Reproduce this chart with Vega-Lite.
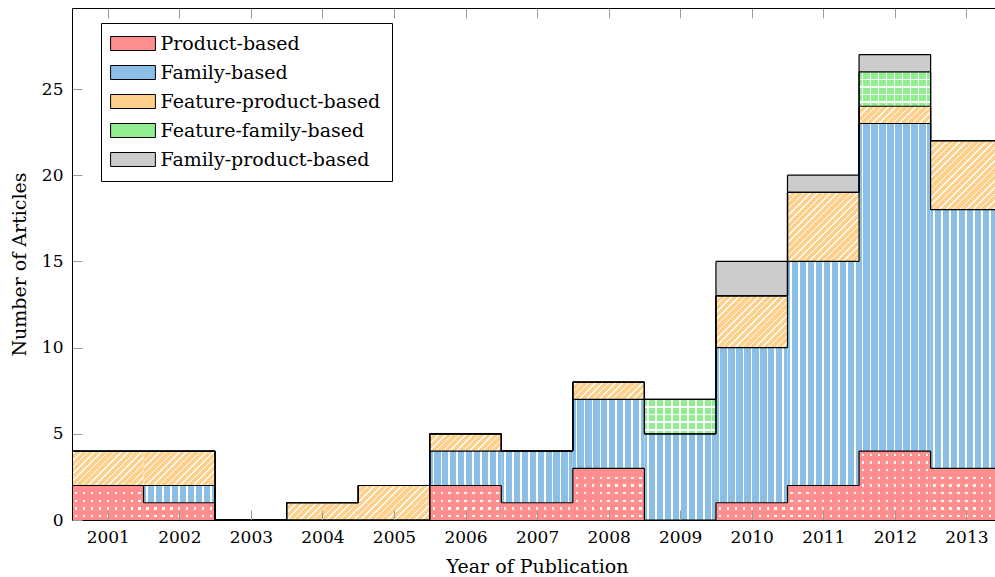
{
  "$schema": "https://vega.github.io/schema/vega-lite/v6.json",
  "width": 923,
  "height": 512,
  "autosize": {"type": "none"},
  "padding": {"left": 72, "top": 8, "right": 0, "bottom": 57},
  "config": {
    "view": {"stroke": null},
    "font": "DejaVu Serif"
  },
  "data": {
    "values": [
      {"year": 2001, "series": "Product-based", "n": 2},
      {"year": 2002, "series": "Product-based", "n": 1},
      {"year": 2003, "series": "Product-based", "n": 0},
      {"year": 2004, "series": "Product-based", "n": 0},
      {"year": 2005, "series": "Product-based", "n": 0},
      {"year": 2006, "series": "Product-based", "n": 2},
      {"year": 2007, "series": "Product-based", "n": 1},
      {"year": 2008, "series": "Product-based", "n": 3},
      {"year": 2009, "series": "Product-based", "n": 0},
      {"year": 2010, "series": "Product-based", "n": 1},
      {"year": 2011, "series": "Product-based", "n": 2},
      {"year": 2012, "series": "Product-based", "n": 4},
      {"year": 2013, "series": "Product-based", "n": 3},
      {"year": 2001, "series": "Family-based", "n": 0},
      {"year": 2002, "series": "Family-based", "n": 1},
      {"year": 2003, "series": "Family-based", "n": 0},
      {"year": 2004, "series": "Family-based", "n": 0},
      {"year": 2005, "series": "Family-based", "n": 0},
      {"year": 2006, "series": "Family-based", "n": 2},
      {"year": 2007, "series": "Family-based", "n": 3},
      {"year": 2008, "series": "Family-based", "n": 4},
      {"year": 2009, "series": "Family-based", "n": 5},
      {"year": 2010, "series": "Family-based", "n": 9},
      {"year": 2011, "series": "Family-based", "n": 13},
      {"year": 2012, "series": "Family-based", "n": 19},
      {"year": 2013, "series": "Family-based", "n": 15},
      {"year": 2001, "series": "Feature-product-based", "n": 2},
      {"year": 2002, "series": "Feature-product-based", "n": 2},
      {"year": 2003, "series": "Feature-product-based", "n": 0},
      {"year": 2004, "series": "Feature-product-based", "n": 1},
      {"year": 2005, "series": "Feature-product-based", "n": 2},
      {"year": 2006, "series": "Feature-product-based", "n": 1},
      {"year": 2007, "series": "Feature-product-based", "n": 0},
      {"year": 2008, "series": "Feature-product-based", "n": 1},
      {"year": 2009, "series": "Feature-product-based", "n": 0},
      {"year": 2010, "series": "Feature-product-based", "n": 3},
      {"year": 2011, "series": "Feature-product-based", "n": 4},
      {"year": 2012, "series": "Feature-product-based", "n": 1},
      {"year": 2013, "series": "Feature-product-based", "n": 4},
      {"year": 2001, "series": "Feature-family-based", "n": 0},
      {"year": 2002, "series": "Feature-family-based", "n": 0},
      {"year": 2003, "series": "Feature-family-based", "n": 0},
      {"year": 2004, "series": "Feature-family-based", "n": 0},
      {"year": 2005, "series": "Feature-family-based", "n": 0},
      {"year": 2006, "series": "Feature-family-based", "n": 0},
      {"year": 2007, "series": "Feature-family-based", "n": 0},
      {"year": 2008, "series": "Feature-family-based", "n": 0},
      {"year": 2009, "series": "Feature-family-based", "n": 2},
      {"year": 2010, "series": "Feature-family-based", "n": 0},
      {"year": 2011, "series": "Feature-family-based", "n": 0},
      {"year": 2012, "series": "Feature-family-based", "n": 2},
      {"year": 2013, "series": "Feature-family-based", "n": 0},
      {"year": 2001, "series": "Family-product-based", "n": 0},
      {"year": 2002, "series": "Family-product-based", "n": 0},
      {"year": 2003, "series": "Family-product-based", "n": 0},
      {"year": 2004, "series": "Family-product-based", "n": 0},
      {"year": 2005, "series": "Family-product-based", "n": 0},
      {"year": 2006, "series": "Family-product-based", "n": 0},
      {"year": 2007, "series": "Family-product-based", "n": 0},
      {"year": 2008, "series": "Family-product-based", "n": 0},
      {"year": 2009, "series": "Family-product-based", "n": 0},
      {"year": 2010, "series": "Family-product-based", "n": 2},
      {"year": 2011, "series": "Family-product-based", "n": 1},
      {"year": 2012, "series": "Family-product-based", "n": 1},
      {"year": 2013, "series": "Family-product-based", "n": 0}
    ]
  },
  "transform": [
    {"calculate": "indexof(['Product-based','Family-based','Feature-product-based','Feature-family-based','Family-product-based'], datum.series)", "as": "order"},
    {"stack": "n", "groupby": ["year"], "sort": [{"field": "order", "order": "ascending"}], "as": ["y0", "y1"]},
    {"bin": {"extent": [2000.5, 2013.5], "step": 1, "nice": false}, "field": "year", "as": ["x0", "x1"]},
    {"window": [{"op": "lag", "field": "y1", "as": "prev"}], "groupby": ["series"], "sort": [{"field": "year", "order": "ascending"}]}
  ],
  "resolve": {"axis": {"x": "independent"}},
  "layer": [
    {
      "mark": {"type": "bar", "clip": true},
      "encoding": {
        "x": {
          "field": "x0", "type": "quantitative",
          "scale": {"domain": [2000.5, 2013.4], "nice": false, "zero": false},
          "axis": {
            "values": [2001, 2002, 2003, 2004, 2005, 2006, 2007, 2008, 2009, 2010, 2011, 2012, 2013],
            "format": "d", "title": "Year of Publication", "zindex": 1,
            "grid": false, "domainColor": "black", "domainWidth": 1,
            "tickColor": "#9a9a9a", "tickSize": -10, "tickWidth": 1,
            "labelFont": "DejaVu Serif", "labelFontSize": 17, "labelColor": "black", "labelPadding": 19,
            "titleFont": "DejaVu Serif", "titleFontSize": 19, "titleFontWeight": "normal", "titleColor": "black",
            "titleX": 465, "titleY": 52, "titleBaseline": "alphabetic"
          }
        },
        "x2": {"field": "x1"},
        "y": {
          "field": "y0", "type": "quantitative",
          "scale": {"domain": [0, 29.7], "nice": false},
          "axis": {
            "values": [0, 5, 10, 15, 20, 25], "title": "Number of Articles", "zindex": 1,
            "grid": false, "domainColor": "black", "domainWidth": 1,
            "tickColor": "#9a9a9a", "tickSize": -10, "tickWidth": 1,
            "labelFont": "DejaVu Serif", "labelFontSize": 17, "labelColor": "black", "labelPadding": 19,
            "titleFont": "DejaVu Serif", "titleFontSize": 19, "titleFontWeight": "normal", "titleColor": "black",
            "titleX": -47, "titleY": 256, "titleBaseline": "alphabetic"
          }
        },
        "y2": {"field": "y1"},
        "color": {
          "field": "series", "type": "nominal",
          "scale": {
            "domain": ["Product-based", "Family-based", "Feature-product-based", "Feature-family-based", "Family-product-based"],
            "range": ["#ff8e8e", "#8cbfe6", "#ffd08c", "#90ee90", "#cccccc"]
          },
          "legend": {
            "orient": "none", "legendX": 29, "legendY": 15, "title": null,
            "strokeColor": "black", "fillColor": "white", "padding": 11, "cornerRadius": 0,
            "symbolType": "M-3.2,-1H3.2V1H-3.2Z", "symbolSize": 196, "symbolOpacity": 1, "symbolOffset": 11.5,
            "labelFont": "DejaVu Serif", "labelFontSize": 19, "labelColor": "black", "labelOffset": 18,
            "labelLimit": 400, "rowPadding": 9,
            "encode": {"symbols": {"update": {"stroke": {"value": "black"}, "strokeWidth": {"value": 1}}}}
          }
        }
      }
    },
    {
      "transform": [{"filter": "(datum.series == 'Family-based' || datum.series == 'Feature-family-based') && datum.n > 0"}],
      "mark": {"type": "bar", "clip": true, "fill": {"gradient": "linear", "x1": 0, "y1": 0, "x2": 1, "y2": 0, "stops": [
        {"offset": 0, "color": "rgba(255,255,255,0)"}, {"offset": 0.04, "color": "rgba(255,255,255,0)"}, {"offset": 0.04, "color": "#ffffff"}, {"offset": 0.062, "color": "#ffffff"}, {"offset": 0.062, "color": "rgba(255,255,255,0)"},
        {"offset": 0.151, "color": "rgba(255,255,255,0)"}, {"offset": 0.151, "color": "#ffffff"}, {"offset": 0.173, "color": "#ffffff"}, {"offset": 0.173, "color": "rgba(255,255,255,0)"},
        {"offset": 0.262, "color": "rgba(255,255,255,0)"}, {"offset": 0.262, "color": "#ffffff"}, {"offset": 0.284, "color": "#ffffff"}, {"offset": 0.284, "color": "rgba(255,255,255,0)"},
        {"offset": 0.373, "color": "rgba(255,255,255,0)"}, {"offset": 0.373, "color": "#ffffff"}, {"offset": 0.395, "color": "#ffffff"}, {"offset": 0.395, "color": "rgba(255,255,255,0)"},
        {"offset": 0.484, "color": "rgba(255,255,255,0)"}, {"offset": 0.484, "color": "#ffffff"}, {"offset": 0.506, "color": "#ffffff"}, {"offset": 0.506, "color": "rgba(255,255,255,0)"},
        {"offset": 0.596, "color": "rgba(255,255,255,0)"}, {"offset": 0.596, "color": "#ffffff"}, {"offset": 0.618, "color": "#ffffff"}, {"offset": 0.618, "color": "rgba(255,255,255,0)"},
        {"offset": 0.707, "color": "rgba(255,255,255,0)"}, {"offset": 0.707, "color": "#ffffff"}, {"offset": 0.729, "color": "#ffffff"}, {"offset": 0.729, "color": "rgba(255,255,255,0)"},
        {"offset": 0.818, "color": "rgba(255,255,255,0)"}, {"offset": 0.818, "color": "#ffffff"}, {"offset": 0.840, "color": "#ffffff"}, {"offset": 0.840, "color": "rgba(255,255,255,0)"},
        {"offset": 0.929, "color": "rgba(255,255,255,0)"}, {"offset": 0.929, "color": "#ffffff"}, {"offset": 0.951, "color": "#ffffff"}, {"offset": 0.951, "color": "rgba(255,255,255,0)"},
        {"offset": 1, "color": "rgba(255,255,255,0)"}
      ]}},
      "encoding": {
        "x": {"field": "x0", "type": "quantitative", "axis": null},
        "x2": {"field": "x1"},
        "y": {"field": "y0", "type": "quantitative"},
        "y2": {"field": "y1"}
      }
    },
    {
      "transform": [{"filter": "datum.series == 'Feature-family-based' && datum.n > 0"}],
      "mark": {"type": "bar", "clip": true, "fill": {"gradient": "linear", "x1": 0, "y1": 0, "x2": 0, "y2": 1, "stops": [
        {"offset": 0, "color": "rgba(255,255,255,0)"}, {"offset": 0.2, "color": "rgba(255,255,255,0)"}, {"offset": 0.2, "color": "#ffffff"}, {"offset": 0.245, "color": "#ffffff"}, {"offset": 0.245, "color": "rgba(255,255,255,0)"},
        {"offset": 0.42, "color": "rgba(255,255,255,0)"}, {"offset": 0.42, "color": "#ffffff"}, {"offset": 0.465, "color": "#ffffff"}, {"offset": 0.465, "color": "rgba(255,255,255,0)"},
        {"offset": 0.64, "color": "rgba(255,255,255,0)"}, {"offset": 0.64, "color": "#ffffff"}, {"offset": 0.685, "color": "#ffffff"}, {"offset": 0.685, "color": "rgba(255,255,255,0)"},
        {"offset": 0.86, "color": "rgba(255,255,255,0)"}, {"offset": 0.86, "color": "#ffffff"}, {"offset": 0.905, "color": "#ffffff"}, {"offset": 0.905, "color": "rgba(255,255,255,0)"},
        {"offset": 1, "color": "rgba(255,255,255,0)"}
      ]}},
      "encoding": {
        "x": {"field": "x0", "type": "quantitative", "axis": null},
        "x2": {"field": "x1"},
        "y": {"field": "y0", "type": "quantitative"},
        "y2": {"field": "y1"}
      }
    },
    {
      "transform": [{"filter": "datum.series == 'Feature-product-based' && datum.n == 1"}],
      "mark": {"type": "bar", "clip": true, "fill": {"gradient": "linear", "x1": 0, "y1": 0, "x2": 1.863, "y2": 0.449, "stops": [
        {"offset": 0, "color": "rgba(255,255,255,0)"},
        {"offset": 0.019, "color": "rgba(255,255,255,0)"}, {"offset": 0.019, "color": "#ffffff"}, {"offset": 0.030, "color": "#ffffff"}, {"offset": 0.030, "color": "rgba(255,255,255,0)"},
        {"offset": 0.0667, "color": "rgba(255,255,255,0)"}, {"offset": 0.0667, "color": "#ffffff"}, {"offset": 0.0777, "color": "#ffffff"}, {"offset": 0.0777, "color": "rgba(255,255,255,0)"},
        {"offset": 0.1143, "color": "rgba(255,255,255,0)"}, {"offset": 0.1143, "color": "#ffffff"}, {"offset": 0.1253, "color": "#ffffff"}, {"offset": 0.1253, "color": "rgba(255,255,255,0)"},
        {"offset": 0.1619, "color": "rgba(255,255,255,0)"}, {"offset": 0.1619, "color": "#ffffff"}, {"offset": 0.1729, "color": "#ffffff"}, {"offset": 0.1729, "color": "rgba(255,255,255,0)"},
        {"offset": 0.2095, "color": "rgba(255,255,255,0)"}, {"offset": 0.2095, "color": "#ffffff"}, {"offset": 0.2205, "color": "#ffffff"}, {"offset": 0.2205, "color": "rgba(255,255,255,0)"},
        {"offset": 0.2571, "color": "rgba(255,255,255,0)"}, {"offset": 0.2571, "color": "#ffffff"}, {"offset": 0.2681, "color": "#ffffff"}, {"offset": 0.2681, "color": "rgba(255,255,255,0)"},
        {"offset": 0.3048, "color": "rgba(255,255,255,0)"}, {"offset": 0.3048, "color": "#ffffff"}, {"offset": 0.3158, "color": "#ffffff"}, {"offset": 0.3158, "color": "rgba(255,255,255,0)"},
        {"offset": 0.3524, "color": "rgba(255,255,255,0)"}, {"offset": 0.3524, "color": "#ffffff"}, {"offset": 0.3634, "color": "#ffffff"}, {"offset": 0.3634, "color": "rgba(255,255,255,0)"},
        {"offset": 0.4000, "color": "rgba(255,255,255,0)"}, {"offset": 0.4000, "color": "#ffffff"}, {"offset": 0.4110, "color": "#ffffff"}, {"offset": 0.4110, "color": "rgba(255,255,255,0)"},
        {"offset": 0.4476, "color": "rgba(255,255,255,0)"}, {"offset": 0.4476, "color": "#ffffff"}, {"offset": 0.4586, "color": "#ffffff"}, {"offset": 0.4586, "color": "rgba(255,255,255,0)"},
        {"offset": 0.4952, "color": "rgba(255,255,255,0)"}, {"offset": 0.4952, "color": "#ffffff"}, {"offset": 0.5062, "color": "#ffffff"}, {"offset": 0.5062, "color": "rgba(255,255,255,0)"},
        {"offset": 0.5429, "color": "rgba(255,255,255,0)"}, {"offset": 0.5429, "color": "#ffffff"}, {"offset": 0.5539, "color": "#ffffff"}, {"offset": 0.5539, "color": "rgba(255,255,255,0)"},
        {"offset": 0.5905, "color": "rgba(255,255,255,0)"}, {"offset": 0.5905, "color": "#ffffff"}, {"offset": 0.6015, "color": "#ffffff"}, {"offset": 0.6015, "color": "rgba(255,255,255,0)"},
        {"offset": 0.6381, "color": "rgba(255,255,255,0)"}, {"offset": 0.6381, "color": "#ffffff"}, {"offset": 0.6491, "color": "#ffffff"}, {"offset": 0.6491, "color": "rgba(255,255,255,0)"},
        {"offset": 0.6857, "color": "rgba(255,255,255,0)"}, {"offset": 0.6857, "color": "#ffffff"}, {"offset": 0.6967, "color": "#ffffff"}, {"offset": 0.6967, "color": "rgba(255,255,255,0)"},
        {"offset": 0.7333, "color": "rgba(255,255,255,0)"}, {"offset": 0.7333, "color": "#ffffff"}, {"offset": 0.7443, "color": "#ffffff"}, {"offset": 0.7443, "color": "rgba(255,255,255,0)"},
        {"offset": 0.7810, "color": "rgba(255,255,255,0)"}, {"offset": 0.7810, "color": "#ffffff"}, {"offset": 0.7920, "color": "#ffffff"}, {"offset": 0.7920, "color": "rgba(255,255,255,0)"},
        {"offset": 0.8286, "color": "rgba(255,255,255,0)"}, {"offset": 0.8286, "color": "#ffffff"}, {"offset": 0.8396, "color": "#ffffff"}, {"offset": 0.8396, "color": "rgba(255,255,255,0)"},
        {"offset": 0.8762, "color": "rgba(255,255,255,0)"}, {"offset": 0.8762, "color": "#ffffff"}, {"offset": 0.8872, "color": "#ffffff"}, {"offset": 0.8872, "color": "rgba(255,255,255,0)"},
        {"offset": 0.9238, "color": "rgba(255,255,255,0)"}, {"offset": 0.9238, "color": "#ffffff"}, {"offset": 0.9348, "color": "#ffffff"}, {"offset": 0.9348, "color": "rgba(255,255,255,0)"},
        {"offset": 0.9714, "color": "rgba(255,255,255,0)"}, {"offset": 0.9714, "color": "#ffffff"}, {"offset": 0.9824, "color": "#ffffff"}, {"offset": 0.9824, "color": "rgba(255,255,255,0)"},
        {"offset": 1, "color": "rgba(255,255,255,0)"}
      ]}},
      "encoding": {
        "x": {"field": "x0", "type": "quantitative", "axis": null},
        "x2": {"field": "x1"},
        "y": {"field": "y0", "type": "quantitative"},
        "y2": {"field": "y1"}
      }
    },
    {
      "transform": [{"filter": "datum.series == 'Feature-product-based' && datum.n == 2"}],
      "mark": {"type": "bar", "clip": true, "fill": {"gradient": "linear", "x1": 0, "y1": 0, "x2": 1.600, "y2": 0.771, "stops": [
        {"offset": 0, "color": "rgba(255,255,255,0)"},
        {"offset": 0.019, "color": "rgba(255,255,255,0)"}, {"offset": 0.019, "color": "#ffffff"}, {"offset": 0.030, "color": "#ffffff"}, {"offset": 0.030, "color": "rgba(255,255,255,0)"},
        {"offset": 0.0667, "color": "rgba(255,255,255,0)"}, {"offset": 0.0667, "color": "#ffffff"}, {"offset": 0.0777, "color": "#ffffff"}, {"offset": 0.0777, "color": "rgba(255,255,255,0)"},
        {"offset": 0.1143, "color": "rgba(255,255,255,0)"}, {"offset": 0.1143, "color": "#ffffff"}, {"offset": 0.1253, "color": "#ffffff"}, {"offset": 0.1253, "color": "rgba(255,255,255,0)"},
        {"offset": 0.1619, "color": "rgba(255,255,255,0)"}, {"offset": 0.1619, "color": "#ffffff"}, {"offset": 0.1729, "color": "#ffffff"}, {"offset": 0.1729, "color": "rgba(255,255,255,0)"},
        {"offset": 0.2095, "color": "rgba(255,255,255,0)"}, {"offset": 0.2095, "color": "#ffffff"}, {"offset": 0.2205, "color": "#ffffff"}, {"offset": 0.2205, "color": "rgba(255,255,255,0)"},
        {"offset": 0.2571, "color": "rgba(255,255,255,0)"}, {"offset": 0.2571, "color": "#ffffff"}, {"offset": 0.2681, "color": "#ffffff"}, {"offset": 0.2681, "color": "rgba(255,255,255,0)"},
        {"offset": 0.3048, "color": "rgba(255,255,255,0)"}, {"offset": 0.3048, "color": "#ffffff"}, {"offset": 0.3158, "color": "#ffffff"}, {"offset": 0.3158, "color": "rgba(255,255,255,0)"},
        {"offset": 0.3524, "color": "rgba(255,255,255,0)"}, {"offset": 0.3524, "color": "#ffffff"}, {"offset": 0.3634, "color": "#ffffff"}, {"offset": 0.3634, "color": "rgba(255,255,255,0)"},
        {"offset": 0.4000, "color": "rgba(255,255,255,0)"}, {"offset": 0.4000, "color": "#ffffff"}, {"offset": 0.4110, "color": "#ffffff"}, {"offset": 0.4110, "color": "rgba(255,255,255,0)"},
        {"offset": 0.4476, "color": "rgba(255,255,255,0)"}, {"offset": 0.4476, "color": "#ffffff"}, {"offset": 0.4586, "color": "#ffffff"}, {"offset": 0.4586, "color": "rgba(255,255,255,0)"},
        {"offset": 0.4952, "color": "rgba(255,255,255,0)"}, {"offset": 0.4952, "color": "#ffffff"}, {"offset": 0.5062, "color": "#ffffff"}, {"offset": 0.5062, "color": "rgba(255,255,255,0)"},
        {"offset": 0.5429, "color": "rgba(255,255,255,0)"}, {"offset": 0.5429, "color": "#ffffff"}, {"offset": 0.5539, "color": "#ffffff"}, {"offset": 0.5539, "color": "rgba(255,255,255,0)"},
        {"offset": 0.5905, "color": "rgba(255,255,255,0)"}, {"offset": 0.5905, "color": "#ffffff"}, {"offset": 0.6015, "color": "#ffffff"}, {"offset": 0.6015, "color": "rgba(255,255,255,0)"},
        {"offset": 0.6381, "color": "rgba(255,255,255,0)"}, {"offset": 0.6381, "color": "#ffffff"}, {"offset": 0.6491, "color": "#ffffff"}, {"offset": 0.6491, "color": "rgba(255,255,255,0)"},
        {"offset": 0.6857, "color": "rgba(255,255,255,0)"}, {"offset": 0.6857, "color": "#ffffff"}, {"offset": 0.6967, "color": "#ffffff"}, {"offset": 0.6967, "color": "rgba(255,255,255,0)"},
        {"offset": 0.7333, "color": "rgba(255,255,255,0)"}, {"offset": 0.7333, "color": "#ffffff"}, {"offset": 0.7443, "color": "#ffffff"}, {"offset": 0.7443, "color": "rgba(255,255,255,0)"},
        {"offset": 0.7810, "color": "rgba(255,255,255,0)"}, {"offset": 0.7810, "color": "#ffffff"}, {"offset": 0.7920, "color": "#ffffff"}, {"offset": 0.7920, "color": "rgba(255,255,255,0)"},
        {"offset": 0.8286, "color": "rgba(255,255,255,0)"}, {"offset": 0.8286, "color": "#ffffff"}, {"offset": 0.8396, "color": "#ffffff"}, {"offset": 0.8396, "color": "rgba(255,255,255,0)"},
        {"offset": 0.8762, "color": "rgba(255,255,255,0)"}, {"offset": 0.8762, "color": "#ffffff"}, {"offset": 0.8872, "color": "#ffffff"}, {"offset": 0.8872, "color": "rgba(255,255,255,0)"},
        {"offset": 0.9238, "color": "rgba(255,255,255,0)"}, {"offset": 0.9238, "color": "#ffffff"}, {"offset": 0.9348, "color": "#ffffff"}, {"offset": 0.9348, "color": "rgba(255,255,255,0)"},
        {"offset": 0.9714, "color": "rgba(255,255,255,0)"}, {"offset": 0.9714, "color": "#ffffff"}, {"offset": 0.9824, "color": "#ffffff"}, {"offset": 0.9824, "color": "rgba(255,255,255,0)"},
        {"offset": 1, "color": "rgba(255,255,255,0)"}
      ]}},
      "encoding": {
        "x": {"field": "x0", "type": "quantitative", "axis": null},
        "x2": {"field": "x1"},
        "y": {"field": "y0", "type": "quantitative"},
        "y2": {"field": "y1"}
      }
    },
    {
      "transform": [{"filter": "datum.series == 'Feature-product-based' && datum.n == 3"}],
      "mark": {"type": "bar", "clip": true, "fill": {"gradient": "linear", "x1": 0, "y1": 0, "x2": 1.295, "y2": 0.936, "stops": [
        {"offset": 0, "color": "rgba(255,255,255,0)"},
        {"offset": 0.019, "color": "rgba(255,255,255,0)"}, {"offset": 0.019, "color": "#ffffff"}, {"offset": 0.030, "color": "#ffffff"}, {"offset": 0.030, "color": "rgba(255,255,255,0)"},
        {"offset": 0.0667, "color": "rgba(255,255,255,0)"}, {"offset": 0.0667, "color": "#ffffff"}, {"offset": 0.0777, "color": "#ffffff"}, {"offset": 0.0777, "color": "rgba(255,255,255,0)"},
        {"offset": 0.1143, "color": "rgba(255,255,255,0)"}, {"offset": 0.1143, "color": "#ffffff"}, {"offset": 0.1253, "color": "#ffffff"}, {"offset": 0.1253, "color": "rgba(255,255,255,0)"},
        {"offset": 0.1619, "color": "rgba(255,255,255,0)"}, {"offset": 0.1619, "color": "#ffffff"}, {"offset": 0.1729, "color": "#ffffff"}, {"offset": 0.1729, "color": "rgba(255,255,255,0)"},
        {"offset": 0.2095, "color": "rgba(255,255,255,0)"}, {"offset": 0.2095, "color": "#ffffff"}, {"offset": 0.2205, "color": "#ffffff"}, {"offset": 0.2205, "color": "rgba(255,255,255,0)"},
        {"offset": 0.2571, "color": "rgba(255,255,255,0)"}, {"offset": 0.2571, "color": "#ffffff"}, {"offset": 0.2681, "color": "#ffffff"}, {"offset": 0.2681, "color": "rgba(255,255,255,0)"},
        {"offset": 0.3048, "color": "rgba(255,255,255,0)"}, {"offset": 0.3048, "color": "#ffffff"}, {"offset": 0.3158, "color": "#ffffff"}, {"offset": 0.3158, "color": "rgba(255,255,255,0)"},
        {"offset": 0.3524, "color": "rgba(255,255,255,0)"}, {"offset": 0.3524, "color": "#ffffff"}, {"offset": 0.3634, "color": "#ffffff"}, {"offset": 0.3634, "color": "rgba(255,255,255,0)"},
        {"offset": 0.4000, "color": "rgba(255,255,255,0)"}, {"offset": 0.4000, "color": "#ffffff"}, {"offset": 0.4110, "color": "#ffffff"}, {"offset": 0.4110, "color": "rgba(255,255,255,0)"},
        {"offset": 0.4476, "color": "rgba(255,255,255,0)"}, {"offset": 0.4476, "color": "#ffffff"}, {"offset": 0.4586, "color": "#ffffff"}, {"offset": 0.4586, "color": "rgba(255,255,255,0)"},
        {"offset": 0.4952, "color": "rgba(255,255,255,0)"}, {"offset": 0.4952, "color": "#ffffff"}, {"offset": 0.5062, "color": "#ffffff"}, {"offset": 0.5062, "color": "rgba(255,255,255,0)"},
        {"offset": 0.5429, "color": "rgba(255,255,255,0)"}, {"offset": 0.5429, "color": "#ffffff"}, {"offset": 0.5539, "color": "#ffffff"}, {"offset": 0.5539, "color": "rgba(255,255,255,0)"},
        {"offset": 0.5905, "color": "rgba(255,255,255,0)"}, {"offset": 0.5905, "color": "#ffffff"}, {"offset": 0.6015, "color": "#ffffff"}, {"offset": 0.6015, "color": "rgba(255,255,255,0)"},
        {"offset": 0.6381, "color": "rgba(255,255,255,0)"}, {"offset": 0.6381, "color": "#ffffff"}, {"offset": 0.6491, "color": "#ffffff"}, {"offset": 0.6491, "color": "rgba(255,255,255,0)"},
        {"offset": 0.6857, "color": "rgba(255,255,255,0)"}, {"offset": 0.6857, "color": "#ffffff"}, {"offset": 0.6967, "color": "#ffffff"}, {"offset": 0.6967, "color": "rgba(255,255,255,0)"},
        {"offset": 0.7333, "color": "rgba(255,255,255,0)"}, {"offset": 0.7333, "color": "#ffffff"}, {"offset": 0.7443, "color": "#ffffff"}, {"offset": 0.7443, "color": "rgba(255,255,255,0)"},
        {"offset": 0.7810, "color": "rgba(255,255,255,0)"}, {"offset": 0.7810, "color": "#ffffff"}, {"offset": 0.7920, "color": "#ffffff"}, {"offset": 0.7920, "color": "rgba(255,255,255,0)"},
        {"offset": 0.8286, "color": "rgba(255,255,255,0)"}, {"offset": 0.8286, "color": "#ffffff"}, {"offset": 0.8396, "color": "#ffffff"}, {"offset": 0.8396, "color": "rgba(255,255,255,0)"},
        {"offset": 0.8762, "color": "rgba(255,255,255,0)"}, {"offset": 0.8762, "color": "#ffffff"}, {"offset": 0.8872, "color": "#ffffff"}, {"offset": 0.8872, "color": "rgba(255,255,255,0)"},
        {"offset": 0.9238, "color": "rgba(255,255,255,0)"}, {"offset": 0.9238, "color": "#ffffff"}, {"offset": 0.9348, "color": "#ffffff"}, {"offset": 0.9348, "color": "rgba(255,255,255,0)"},
        {"offset": 0.9714, "color": "rgba(255,255,255,0)"}, {"offset": 0.9714, "color": "#ffffff"}, {"offset": 0.9824, "color": "#ffffff"}, {"offset": 0.9824, "color": "rgba(255,255,255,0)"},
        {"offset": 1, "color": "rgba(255,255,255,0)"}
      ]}},
      "encoding": {
        "x": {"field": "x0", "type": "quantitative", "axis": null},
        "x2": {"field": "x1"},
        "y": {"field": "y0", "type": "quantitative"},
        "y2": {"field": "y1"}
      }
    },
    {
      "transform": [{"filter": "datum.series == 'Feature-product-based' && datum.n == 4"}],
      "mark": {"type": "bar", "clip": true, "fill": {"gradient": "linear", "x1": 0, "y1": 0, "x2": 1.0216, "y2": 0.985, "stops": [
        {"offset": 0, "color": "rgba(255,255,255,0)"},
        {"offset": 0.019, "color": "rgba(255,255,255,0)"}, {"offset": 0.019, "color": "#ffffff"}, {"offset": 0.030, "color": "#ffffff"}, {"offset": 0.030, "color": "rgba(255,255,255,0)"},
        {"offset": 0.0667, "color": "rgba(255,255,255,0)"}, {"offset": 0.0667, "color": "#ffffff"}, {"offset": 0.0777, "color": "#ffffff"}, {"offset": 0.0777, "color": "rgba(255,255,255,0)"},
        {"offset": 0.1143, "color": "rgba(255,255,255,0)"}, {"offset": 0.1143, "color": "#ffffff"}, {"offset": 0.1253, "color": "#ffffff"}, {"offset": 0.1253, "color": "rgba(255,255,255,0)"},
        {"offset": 0.1619, "color": "rgba(255,255,255,0)"}, {"offset": 0.1619, "color": "#ffffff"}, {"offset": 0.1729, "color": "#ffffff"}, {"offset": 0.1729, "color": "rgba(255,255,255,0)"},
        {"offset": 0.2095, "color": "rgba(255,255,255,0)"}, {"offset": 0.2095, "color": "#ffffff"}, {"offset": 0.2205, "color": "#ffffff"}, {"offset": 0.2205, "color": "rgba(255,255,255,0)"},
        {"offset": 0.2571, "color": "rgba(255,255,255,0)"}, {"offset": 0.2571, "color": "#ffffff"}, {"offset": 0.2681, "color": "#ffffff"}, {"offset": 0.2681, "color": "rgba(255,255,255,0)"},
        {"offset": 0.3048, "color": "rgba(255,255,255,0)"}, {"offset": 0.3048, "color": "#ffffff"}, {"offset": 0.3158, "color": "#ffffff"}, {"offset": 0.3158, "color": "rgba(255,255,255,0)"},
        {"offset": 0.3524, "color": "rgba(255,255,255,0)"}, {"offset": 0.3524, "color": "#ffffff"}, {"offset": 0.3634, "color": "#ffffff"}, {"offset": 0.3634, "color": "rgba(255,255,255,0)"},
        {"offset": 0.4000, "color": "rgba(255,255,255,0)"}, {"offset": 0.4000, "color": "#ffffff"}, {"offset": 0.4110, "color": "#ffffff"}, {"offset": 0.4110, "color": "rgba(255,255,255,0)"},
        {"offset": 0.4476, "color": "rgba(255,255,255,0)"}, {"offset": 0.4476, "color": "#ffffff"}, {"offset": 0.4586, "color": "#ffffff"}, {"offset": 0.4586, "color": "rgba(255,255,255,0)"},
        {"offset": 0.4952, "color": "rgba(255,255,255,0)"}, {"offset": 0.4952, "color": "#ffffff"}, {"offset": 0.5062, "color": "#ffffff"}, {"offset": 0.5062, "color": "rgba(255,255,255,0)"},
        {"offset": 0.5429, "color": "rgba(255,255,255,0)"}, {"offset": 0.5429, "color": "#ffffff"}, {"offset": 0.5539, "color": "#ffffff"}, {"offset": 0.5539, "color": "rgba(255,255,255,0)"},
        {"offset": 0.5905, "color": "rgba(255,255,255,0)"}, {"offset": 0.5905, "color": "#ffffff"}, {"offset": 0.6015, "color": "#ffffff"}, {"offset": 0.6015, "color": "rgba(255,255,255,0)"},
        {"offset": 0.6381, "color": "rgba(255,255,255,0)"}, {"offset": 0.6381, "color": "#ffffff"}, {"offset": 0.6491, "color": "#ffffff"}, {"offset": 0.6491, "color": "rgba(255,255,255,0)"},
        {"offset": 0.6857, "color": "rgba(255,255,255,0)"}, {"offset": 0.6857, "color": "#ffffff"}, {"offset": 0.6967, "color": "#ffffff"}, {"offset": 0.6967, "color": "rgba(255,255,255,0)"},
        {"offset": 0.7333, "color": "rgba(255,255,255,0)"}, {"offset": 0.7333, "color": "#ffffff"}, {"offset": 0.7443, "color": "#ffffff"}, {"offset": 0.7443, "color": "rgba(255,255,255,0)"},
        {"offset": 0.7810, "color": "rgba(255,255,255,0)"}, {"offset": 0.7810, "color": "#ffffff"}, {"offset": 0.7920, "color": "#ffffff"}, {"offset": 0.7920, "color": "rgba(255,255,255,0)"},
        {"offset": 0.8286, "color": "rgba(255,255,255,0)"}, {"offset": 0.8286, "color": "#ffffff"}, {"offset": 0.8396, "color": "#ffffff"}, {"offset": 0.8396, "color": "rgba(255,255,255,0)"},
        {"offset": 0.8762, "color": "rgba(255,255,255,0)"}, {"offset": 0.8762, "color": "#ffffff"}, {"offset": 0.8872, "color": "#ffffff"}, {"offset": 0.8872, "color": "rgba(255,255,255,0)"},
        {"offset": 0.9238, "color": "rgba(255,255,255,0)"}, {"offset": 0.9238, "color": "#ffffff"}, {"offset": 0.9348, "color": "#ffffff"}, {"offset": 0.9348, "color": "rgba(255,255,255,0)"},
        {"offset": 0.9714, "color": "rgba(255,255,255,0)"}, {"offset": 0.9714, "color": "#ffffff"}, {"offset": 0.9824, "color": "#ffffff"}, {"offset": 0.9824, "color": "rgba(255,255,255,0)"},
        {"offset": 1, "color": "rgba(255,255,255,0)"}
      ]}},
      "encoding": {
        "x": {"field": "x0", "type": "quantitative", "axis": null},
        "x2": {"field": "x1"},
        "y": {"field": "y0", "type": "quantitative"},
        "y2": {"field": "y1"}
      }
    },
    {
      "transform": [{"filter": "datum.series == 'Product-based' && datum.n == 1"}],
      "mark": {"type": "bar", "clip": true, "fill": {"gradient": "linear", "x1": 0, "y1": 1, "x2": 0, "y2": -3.0026, "stops": [
        {"offset": 0, "color": "rgba(255,255,255,0)"},
        {"offset": 0.040, "color": "rgba(255,255,255,0)"}, {"offset": 0.040, "color": "#ffffff"}, {"offset": 0.073, "color": "#ffffff"}, {"offset": 0.073, "color": "rgba(255,255,255,0)"},
        {"offset": 0.151, "color": "rgba(255,255,255,0)"}, {"offset": 0.151, "color": "#ffffff"}, {"offset": 0.184, "color": "#ffffff"}, {"offset": 0.184, "color": "rgba(255,255,255,0)"},
        {"offset": 0.262, "color": "rgba(255,255,255,0)"}, {"offset": 0.262, "color": "#ffffff"}, {"offset": 0.295, "color": "#ffffff"}, {"offset": 0.295, "color": "rgba(255,255,255,0)"},
        {"offset": 1, "color": "rgba(255,255,255,0)"}
      ]}},
      "encoding": {
        "x": {"field": "x0", "type": "quantitative", "axis": null},
        "x2": {"field": "x1"},
        "y": {"field": "y0", "type": "quantitative"},
        "y2": {"field": "y1"}
      }
    },
    {
      "transform": [{"filter": "datum.series == 'Product-based' && datum.n == 2"}],
      "mark": {"type": "bar", "clip": true, "fill": {"gradient": "linear", "x1": 0, "y1": 1, "x2": 0, "y2": -1.0013, "stops": [
        {"offset": 0, "color": "rgba(255,255,255,0)"},
        {"offset": 0.040, "color": "rgba(255,255,255,0)"}, {"offset": 0.040, "color": "#ffffff"}, {"offset": 0.073, "color": "#ffffff"}, {"offset": 0.073, "color": "rgba(255,255,255,0)"},
        {"offset": 0.151, "color": "rgba(255,255,255,0)"}, {"offset": 0.151, "color": "#ffffff"}, {"offset": 0.184, "color": "#ffffff"}, {"offset": 0.184, "color": "rgba(255,255,255,0)"},
        {"offset": 0.262, "color": "rgba(255,255,255,0)"}, {"offset": 0.262, "color": "#ffffff"}, {"offset": 0.295, "color": "#ffffff"}, {"offset": 0.295, "color": "rgba(255,255,255,0)"},
        {"offset": 0.373, "color": "rgba(255,255,255,0)"}, {"offset": 0.373, "color": "#ffffff"}, {"offset": 0.406, "color": "#ffffff"}, {"offset": 0.406, "color": "rgba(255,255,255,0)"},
        {"offset": 1, "color": "rgba(255,255,255,0)"}
      ]}},
      "encoding": {
        "x": {"field": "x0", "type": "quantitative", "axis": null},
        "x2": {"field": "x1"},
        "y": {"field": "y0", "type": "quantitative"},
        "y2": {"field": "y1"}
      }
    },
    {
      "transform": [{"filter": "datum.series == 'Product-based' && datum.n == 3"}],
      "mark": {"type": "bar", "clip": true, "fill": {"gradient": "linear", "x1": 0, "y1": 1, "x2": 0, "y2": -0.3342, "stops": [
        {"offset": 0, "color": "rgba(255,255,255,0)"},
        {"offset": 0.040, "color": "rgba(255,255,255,0)"}, {"offset": 0.040, "color": "#ffffff"}, {"offset": 0.073, "color": "#ffffff"}, {"offset": 0.073, "color": "rgba(255,255,255,0)"},
        {"offset": 0.151, "color": "rgba(255,255,255,0)"}, {"offset": 0.151, "color": "#ffffff"}, {"offset": 0.184, "color": "#ffffff"}, {"offset": 0.184, "color": "rgba(255,255,255,0)"},
        {"offset": 0.262, "color": "rgba(255,255,255,0)"}, {"offset": 0.262, "color": "#ffffff"}, {"offset": 0.295, "color": "#ffffff"}, {"offset": 0.295, "color": "rgba(255,255,255,0)"},
        {"offset": 0.373, "color": "rgba(255,255,255,0)"}, {"offset": 0.373, "color": "#ffffff"}, {"offset": 0.406, "color": "#ffffff"}, {"offset": 0.406, "color": "rgba(255,255,255,0)"},
        {"offset": 0.484, "color": "rgba(255,255,255,0)"}, {"offset": 0.484, "color": "#ffffff"}, {"offset": 0.517, "color": "#ffffff"}, {"offset": 0.517, "color": "rgba(255,255,255,0)"},
        {"offset": 0.596, "color": "rgba(255,255,255,0)"}, {"offset": 0.596, "color": "#ffffff"}, {"offset": 0.629, "color": "#ffffff"}, {"offset": 0.629, "color": "rgba(255,255,255,0)"},
        {"offset": 1, "color": "rgba(255,255,255,0)"}
      ]}},
      "encoding": {
        "x": {"field": "x0", "type": "quantitative", "axis": null},
        "x2": {"field": "x1"},
        "y": {"field": "y0", "type": "quantitative"},
        "y2": {"field": "y1"}
      }
    },
    {
      "transform": [{"filter": "datum.series == 'Product-based' && datum.n == 4"}],
      "mark": {"type": "bar", "clip": true, "fill": {"gradient": "linear", "x1": 0, "y1": 1, "x2": 0, "y2": -0.0007, "stops": [
        {"offset": 0, "color": "rgba(255,255,255,0)"},
        {"offset": 0.040, "color": "rgba(255,255,255,0)"}, {"offset": 0.040, "color": "#ffffff"}, {"offset": 0.073, "color": "#ffffff"}, {"offset": 0.073, "color": "rgba(255,255,255,0)"},
        {"offset": 0.151, "color": "rgba(255,255,255,0)"}, {"offset": 0.151, "color": "#ffffff"}, {"offset": 0.184, "color": "#ffffff"}, {"offset": 0.184, "color": "rgba(255,255,255,0)"},
        {"offset": 0.262, "color": "rgba(255,255,255,0)"}, {"offset": 0.262, "color": "#ffffff"}, {"offset": 0.295, "color": "#ffffff"}, {"offset": 0.295, "color": "rgba(255,255,255,0)"},
        {"offset": 0.373, "color": "rgba(255,255,255,0)"}, {"offset": 0.373, "color": "#ffffff"}, {"offset": 0.406, "color": "#ffffff"}, {"offset": 0.406, "color": "rgba(255,255,255,0)"},
        {"offset": 0.484, "color": "rgba(255,255,255,0)"}, {"offset": 0.484, "color": "#ffffff"}, {"offset": 0.517, "color": "#ffffff"}, {"offset": 0.517, "color": "rgba(255,255,255,0)"},
        {"offset": 0.596, "color": "rgba(255,255,255,0)"}, {"offset": 0.596, "color": "#ffffff"}, {"offset": 0.629, "color": "#ffffff"}, {"offset": 0.629, "color": "rgba(255,255,255,0)"},
        {"offset": 0.707, "color": "rgba(255,255,255,0)"}, {"offset": 0.707, "color": "#ffffff"}, {"offset": 0.740, "color": "#ffffff"}, {"offset": 0.740, "color": "rgba(255,255,255,0)"},
        {"offset": 0.818, "color": "rgba(255,255,255,0)"}, {"offset": 0.818, "color": "#ffffff"}, {"offset": 0.851, "color": "#ffffff"}, {"offset": 0.851, "color": "rgba(255,255,255,0)"},
        {"offset": 0.929, "color": "rgba(255,255,255,0)"}, {"offset": 0.929, "color": "#ffffff"}, {"offset": 0.962, "color": "#ffffff"}, {"offset": 0.962, "color": "rgba(255,255,255,0)"},
        {"offset": 1, "color": "rgba(255,255,255,0)"}
      ]}},
      "encoding": {
        "x": {"field": "x0", "type": "quantitative", "axis": null},
        "x2": {"field": "x1"},
        "y": {"field": "y0", "type": "quantitative"},
        "y2": {"field": "y1"}
      }
    },
    {
      "transform": [{"filter": "datum.series == 'Product-based' && datum.n > 0"}],
      "mark": {"type": "bar", "clip": true, "fill": {"gradient": "linear", "x1": 0, "y1": 0, "x2": 1, "y2": 0, "stops": [
        {"offset": 0, "color": "#ff8e8e"},
        {"offset": 0.040, "color": "#ff8e8e"}, {"offset": 0.040, "color": "rgba(255,142,142,0)"}, {"offset": 0.072, "color": "rgba(255,142,142,0)"}, {"offset": 0.072, "color": "#ff8e8e"},
        {"offset": 0.151, "color": "#ff8e8e"}, {"offset": 0.151, "color": "rgba(255,142,142,0)"}, {"offset": 0.183, "color": "rgba(255,142,142,0)"}, {"offset": 0.183, "color": "#ff8e8e"},
        {"offset": 0.262, "color": "#ff8e8e"}, {"offset": 0.262, "color": "rgba(255,142,142,0)"}, {"offset": 0.294, "color": "rgba(255,142,142,0)"}, {"offset": 0.294, "color": "#ff8e8e"},
        {"offset": 0.373, "color": "#ff8e8e"}, {"offset": 0.373, "color": "rgba(255,142,142,0)"}, {"offset": 0.405, "color": "rgba(255,142,142,0)"}, {"offset": 0.405, "color": "#ff8e8e"},
        {"offset": 0.484, "color": "#ff8e8e"}, {"offset": 0.484, "color": "rgba(255,142,142,0)"}, {"offset": 0.516, "color": "rgba(255,142,142,0)"}, {"offset": 0.516, "color": "#ff8e8e"},
        {"offset": 0.596, "color": "#ff8e8e"}, {"offset": 0.596, "color": "rgba(255,142,142,0)"}, {"offset": 0.628, "color": "rgba(255,142,142,0)"}, {"offset": 0.628, "color": "#ff8e8e"},
        {"offset": 0.707, "color": "#ff8e8e"}, {"offset": 0.707, "color": "rgba(255,142,142,0)"}, {"offset": 0.739, "color": "rgba(255,142,142,0)"}, {"offset": 0.739, "color": "#ff8e8e"},
        {"offset": 0.818, "color": "#ff8e8e"}, {"offset": 0.818, "color": "rgba(255,142,142,0)"}, {"offset": 0.850, "color": "rgba(255,142,142,0)"}, {"offset": 0.850, "color": "#ff8e8e"},
        {"offset": 0.929, "color": "#ff8e8e"}, {"offset": 0.929, "color": "rgba(255,142,142,0)"}, {"offset": 0.961, "color": "rgba(255,142,142,0)"}, {"offset": 0.961, "color": "#ff8e8e"},
        {"offset": 1, "color": "#ff8e8e"}
      ]}},
      "encoding": {
        "x": {"field": "x0", "type": "quantitative", "axis": null},
        "x2": {"field": "x1"},
        "y": {"field": "y0", "type": "quantitative"},
        "y2": {"field": "y1"}
      }
    },
    {
      "mark": {"type": "rule", "clip": true, "color": "black", "strokeWidth": 1.2},
      "encoding": {
        "x": {
          "field": "x0", "type": "quantitative",
          "axis": {
            "orient": "top", "values": [2001, 2002, 2003, 2004, 2005, 2006, 2007, 2008, 2009, 2010, 2011, 2012, 2013],
            "labels": false, "title": null, "zindex": 1, "grid": false,
            "domainColor": "black", "domainWidth": 1,
            "tickColor": "#9a9a9a", "tickSize": -10, "tickWidth": 1
          }
        },
        "x2": {"field": "x1"},
        "y": {"field": "y1", "type": "quantitative"},
        "y2": {"field": "y1"}
      }
    },
    {
      "transform": [{"filter": "datum.prev != null && datum.prev != datum.y1"}],
      "mark": {"type": "rule", "clip": true, "color": "black", "strokeWidth": 1.2},
      "encoding": {
        "x": {"field": "x0", "type": "quantitative", "axis": null},
        "y": {"field": "prev", "type": "quantitative"},
        "y2": {"field": "y1"}
      }
    }
  ]
}
